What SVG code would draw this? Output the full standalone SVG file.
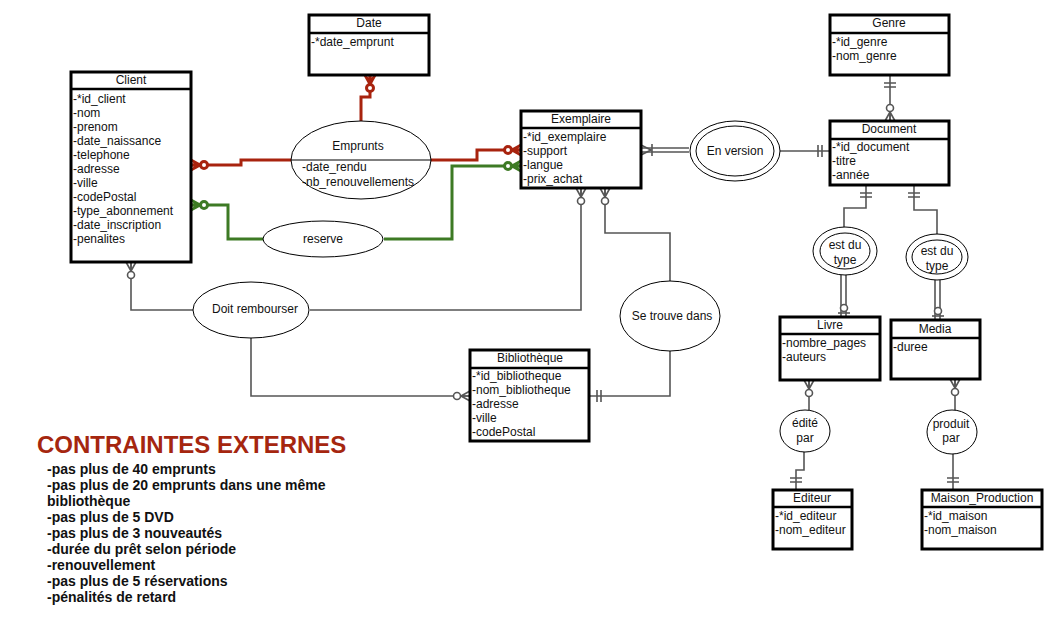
<svg xmlns="http://www.w3.org/2000/svg" xmlns:xlink="http://www.w3.org/1999/xlink" width="1064" height="624" viewBox="0 0 1064 624">
<style>
text{font-family:"Liberation Sans",Arial,sans-serif;font-size:12px;fill:#111}
.hd{text-anchor:middle}
.box{fill:#fff;stroke:#000;stroke-width:3}
.sep{stroke:#000;stroke-width:2.5}
.ell{fill:#fff;stroke:#000;stroke-width:1}
.c{fill:none;stroke:#555;stroke-width:1.6}
.red{fill:none;stroke:#A8230E;stroke-width:3}
.grn{fill:none;stroke:#3D7A24;stroke-width:3}
.lbl{text-anchor:middle}
.title{font-size:24px;font-weight:bold;fill:#A5260F}
.rule{font-size:14px;font-weight:bold;fill:#111}
</style>
<defs>
<g id="cf0"><path d="M0,-5 L9,0 M0,5 L9,0 M0,0 L9,0" fill="none"/><circle cx="13" cy="0" r="3.5" fill="#fff"/></g>
<g id="one"><path d="M8,-6 V6 M12,-6 V6" fill="none"/></g>
<g id="cf1"><path d="M0,-5 L10,0 M0,5 L10,0 M11,-6 V6" fill="none"/></g>
<g id="zo"><path d="M4,-6 V6" fill="none"/><circle cx="9" cy="0" r="3.5" fill="#fff"/></g>
</defs>
<rect width="1064" height="624" fill="#fff"/>

<g id="connectors">
  <!-- Emprunts (red) -->
  <path class="red" d="M191,165 H241 V160 H291"/>
  <path class="red" d="M431,160 H477 V150 H521"/>
  <path class="red" d="M361,121 V97 H370 V75"/>
  <use xlink:href="#cf0" class="red" transform="translate(191,165)"/>
  <use xlink:href="#cf0" class="red" transform="translate(521,150) rotate(180)"/>
  <use xlink:href="#cf0" class="red" transform="translate(370,75) rotate(90)"/>
  <!-- reserve (green) -->
  <path class="grn" d="M191,205 H228 V239 H263"/>
  <path class="grn" d="M384,239 H452 V166 H521"/>
  <use xlink:href="#cf0" class="grn" transform="translate(191,205)"/>
  <use xlink:href="#cf0" class="grn" transform="translate(521,166) rotate(180)"/>
  <!-- Doit rembourser -->
  <path class="c" d="M131,262 V310 H193"/>
  <path class="c" d="M310,310 H581 V188"/>
  <path class="c" d="M251,338 V396 H470"/>
  <use xlink:href="#cf0" class="c" transform="translate(131,262) rotate(90)"/>
  <use xlink:href="#cf0" class="c" transform="translate(581,188) rotate(90)"/>
  <use xlink:href="#cf0" class="c" transform="translate(470,396) rotate(180)"/>
  <!-- Se trouve dans -->
  <path class="c" d="M605,188 V233 H670 V281"/>
  <path class="c" d="M670,350 V396 H589"/>
  <use xlink:href="#cf0" class="c" transform="translate(605,188) rotate(90)"/>
  <use xlink:href="#one" class="c" transform="translate(589,396)"/>
  <!-- En version -->
  <path class="c" d="M641,148 H689 M641,152 H689"/>
  <path class="c" d="M780,151 H830"/>
  <use xlink:href="#cf1" class="c" transform="translate(641,150)"/>
  <use xlink:href="#one" class="c" transform="translate(830,151) rotate(180)"/>
  <!-- Genre - Document -->
  <path class="c" d="M890,75 V121"/>
  <use xlink:href="#one" class="c" transform="translate(890,75) rotate(90)"/>
  <use xlink:href="#cf0" class="c" transform="translate(890,121) rotate(-90)"/>
  <!-- est du type (Livre) -->
  <path class="c" d="M866,185 V208 H844 V227"/>
  <use xlink:href="#one" class="c" transform="translate(866,185) rotate(90)"/>
  <path class="c" d="M841,275 V317 M846,275 V317"/>
  <use xlink:href="#zo" class="c" transform="translate(844,317) rotate(-90)"/>
  <!-- est du type (Media) -->
  <path class="c" d="M914,185 V210 H937 V235"/>
  <use xlink:href="#one" class="c" transform="translate(914,185) rotate(90)"/>
  <path class="c" d="M935,280 V320 M940,280 V320"/>
  <use xlink:href="#zo" class="c" transform="translate(938,320) rotate(-90)"/>
  <!-- édité par -->
  <path class="c" d="M809,380 V410"/>
  <use xlink:href="#cf0" class="c" transform="translate(809,380) rotate(90)"/>
  <path class="c" d="M804,452 V470 H796 V490"/>
  <use xlink:href="#one" class="c" transform="translate(796,490) rotate(-90)"/>
  <!-- produit par -->
  <path class="c" d="M955,379 V410"/>
  <use xlink:href="#cf0" class="c" transform="translate(955,379) rotate(90)"/>
  <path class="c" d="M953,454 V490"/>
  <use xlink:href="#one" class="c" transform="translate(953,490) rotate(-90)"/>
</g>

<g id="client">
  <rect class="box" x="71" y="72" width="120" height="190"/>
  <line class="sep" x1="71" y1="89" x2="191" y2="89"/>
  <text class="hd" x="131" y="84">Client</text>
  <text x="73" y="103">-*id_client</text>
  <text x="73" y="117">-nom</text>
  <text x="73" y="131">-prenom</text>
  <text x="73" y="145">-date_naissance</text>
  <text x="73" y="159">-telephone</text>
  <text x="73" y="173">-adresse</text>
  <text x="73" y="187">-ville</text>
  <text x="73" y="201">-codePostal</text>
  <text x="73" y="215">-type_abonnement</text>
  <text x="73" y="229">-date_inscription</text>
  <text x="73" y="243">-penalites</text>
</g>

<g id="date">
  <rect class="box" x="309" y="15" width="120" height="60"/>
  <line class="sep" x1="309" y1="33" x2="429" y2="33"/>
  <text class="hd" x="369" y="27">Date</text>
  <text x="311" y="46">-*date_emprunt</text>
</g>

<g id="exemplaire">
  <rect class="box" x="521" y="111" width="120" height="77"/>
  <line class="sep" x1="521" y1="128" x2="641" y2="128"/>
  <text class="hd" x="581" y="123">Exemplaire</text>
  <text x="523" y="141">-*id_exemplaire</text>
  <text x="523" y="155">-support</text>
  <text x="523" y="169">-langue</text>
  <text x="523" y="183">-prix_achat</text>
</g>

<g id="genre">
  <rect class="box" x="830" y="15" width="119" height="60"/>
  <line class="sep" x1="830" y1="33" x2="949" y2="33"/>
  <text class="hd" x="889" y="27">Genre</text>
  <text x="832" y="46">-*id_genre</text>
  <text x="832" y="60">-nom_genre</text>
</g>

<g id="document">
  <rect class="box" x="830" y="121" width="119" height="64"/>
  <line class="sep" x1="830" y1="139" x2="949" y2="139"/>
  <text class="hd" x="889" y="133">Document</text>
  <text x="832" y="151">-*id_document</text>
  <text x="832" y="165">-titre</text>
  <text x="832" y="179">-année</text>
</g>

<g id="livre">
  <rect class="box" x="780" y="317" width="100" height="63"/>
  <line class="sep" x1="780" y1="334" x2="880" y2="334"/>
  <text class="hd" x="830" y="329">Livre</text>
  <text x="782" y="347">-nombre_pages</text>
  <text x="782" y="361">-auteurs</text>
</g>

<g id="media">
  <rect class="box" x="891" y="320" width="89" height="59"/>
  <line class="sep" x1="891" y1="338" x2="980" y2="338"/>
  <text class="hd" x="935" y="333">Media</text>
  <text x="893" y="351">-duree</text>
</g>

<g id="bibliotheque">
  <rect class="box" x="470" y="350" width="119" height="91"/>
  <line class="sep" x1="470" y1="368" x2="589" y2="368"/>
  <text class="hd" x="530" y="362">Bibliothèque</text>
  <text x="472" y="380">-*id_bibliotheque</text>
  <text x="472" y="394">-nom_bibliotheque</text>
  <text x="472" y="408">-adresse</text>
  <text x="472" y="422">-ville</text>
  <text x="472" y="436">-codePostal</text>
</g>

<g id="editeur">
  <rect class="box" x="773" y="490" width="79" height="59"/>
  <line class="sep" x1="773" y1="507" x2="852" y2="507"/>
  <text class="hd" x="812" y="502">Editeur</text>
  <text x="775" y="520">-*id_editeur</text>
  <text x="775" y="534">-nom_editeur</text>
</g>

<g id="maison_production">
  <rect class="box" x="922" y="490" width="120" height="59"/>
  <line class="sep" x1="922" y1="507" x2="1042" y2="507"/>
  <text class="hd" x="982" y="502">Maison_Production</text>
  <text x="924" y="520">-*id_maison</text>
  <text x="924" y="534">-nom_maison</text>
</g>

<g id="emprunts">
  <ellipse class="ell" cx="361" cy="160" rx="70" ry="39"/>
  <line x1="291" y1="160" x2="431" y2="160" stroke="#000" stroke-width="1.2"/>
  <text class="lbl" x="358" y="150">Emprunts</text>
  <text x="302" y="171">-date_rendu</text>
  <text x="302" y="186">-nb_renouvellements</text>
</g>

<g id="reserve">
  <ellipse class="ell" cx="323" cy="239" rx="60" ry="18"/>
  <text class="lbl" x="323" y="243">reserve</text>
</g>

<g id="en_version">
  <ellipse class="ell" cx="735" cy="151" rx="45" ry="30"/>
  <ellipse class="ell" cx="735" cy="151" rx="39" ry="25"/>
  <text class="lbl" x="735" y="155">En version</text>
</g>

<g id="doit_rembourser">
  <ellipse class="ell" cx="251" cy="310" rx="58" ry="28"/>
  <text class="lbl" x="255" y="313">Doit rembourser</text>
</g>

<g id="se_trouve_dans">
  <ellipse class="ell" cx="670" cy="316" rx="50" ry="35"/>
  <text class="lbl" x="672" y="320">Se trouve dans</text>
</g>

<g id="est_du_type_livre">
  <ellipse class="ell" cx="845" cy="251" rx="32" ry="24"/>
  <ellipse class="ell" cx="845" cy="251" rx="25" ry="18"/>
  <text class="lbl" x="845" y="249">est du</text>
  <text class="lbl" x="845" y="264">type</text>
</g>

<g id="est_du_type_media">
  <ellipse class="ell" cx="937" cy="257" rx="31" ry="23"/>
  <ellipse class="ell" cx="937" cy="257" rx="25" ry="17"/>
  <text class="lbl" x="937" y="255">est du</text>
  <text class="lbl" x="937" y="270">type</text>
</g>

<g id="edite_par">
  <ellipse class="ell" cx="805" cy="431" rx="25" ry="21"/>
  <text class="lbl" x="805" y="427">édité</text>
  <text class="lbl" x="805" y="442">par</text>
</g>

<g id="produit_par">
  <ellipse class="ell" cx="952" cy="432" rx="25" ry="22"/>
  <text class="lbl" x="951" y="428">produit</text>
  <text class="lbl" x="951" y="442">par</text>
</g>

<g id="contraintes">
  <text class="title" x="37" y="453">CONTRAINTES EXTERNES</text>
  <text class="rule" x="47" y="474">-pas plus de 40 emprunts</text>
  <text class="rule" x="47" y="490">-pas plus de 20 emprunts dans une même</text>
  <text class="rule" x="47" y="506">bibliothèque</text>
  <text class="rule" x="47" y="522">-pas plus de 5 DVD</text>
  <text class="rule" x="47" y="538">-pas plus de 3 nouveautés</text>
  <text class="rule" x="47" y="554">-durée du prêt selon période</text>
  <text class="rule" x="47" y="570">-renouvellement</text>
  <text class="rule" x="47" y="586">-pas plus de 5 réservations</text>
  <text class="rule" x="47" y="602">-pénalités de retard</text>
</g>
</svg>
